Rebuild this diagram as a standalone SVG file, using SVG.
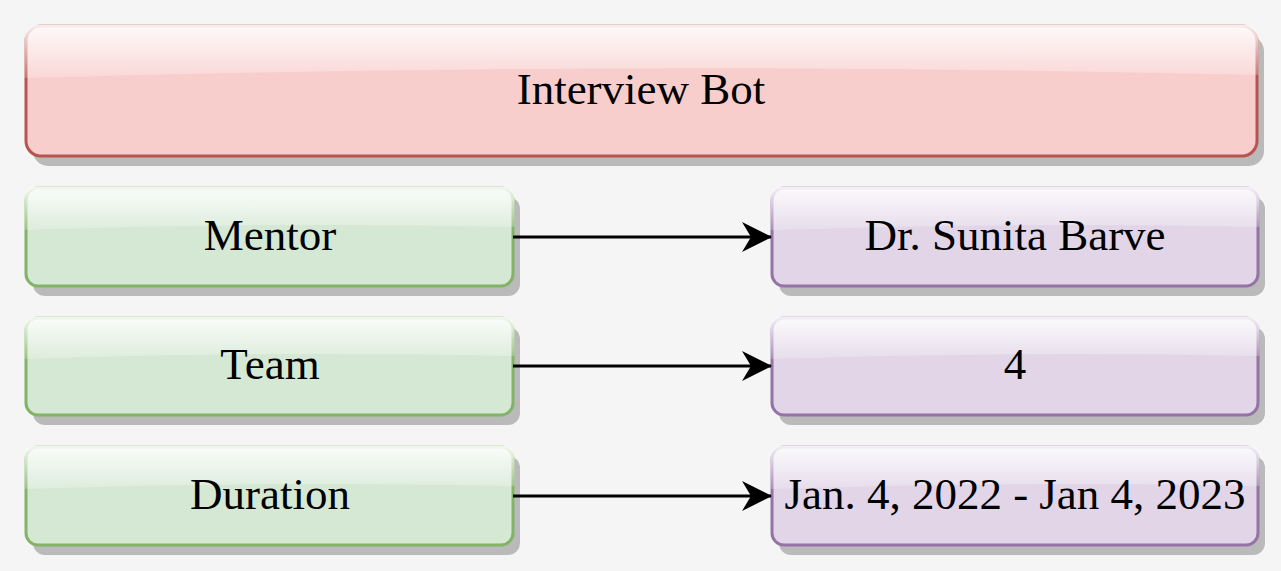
<svg xmlns="http://www.w3.org/2000/svg" width="1281" height="571" viewBox="0 0 1281 571">
<defs>
<linearGradient id="glass" x1="0" y1="0" x2="0" y2="1">
<stop offset="0" stop-color="#fff" stop-opacity="0.9"/>
<stop offset="1" stop-color="#fff" stop-opacity="0.2"/>
</linearGradient>
<marker id="arr" viewBox="0 0 30 30" refX="29" refY="15" markerWidth="30" markerHeight="30" markerUnits="userSpaceOnUse" orient="auto">
<path d="M0,0 L30,15 L0,30 L9,15 Z" fill="#000"/>
</marker>
</defs>
<style>
.t{font-family:"Liberation Serif","Times New Roman",serif;font-size:45px;fill:#000;text-anchor:middle;dominant-baseline:central}
.shd{fill:#bababa}
.red{fill:#f8cecc;stroke:#b85450;stroke-width:3}
.grn{fill:#d5e8d4;stroke:#82b366;stroke-width:3}
.pur{fill:#e1d5e7;stroke:#9673a6;stroke-width:3}
.gl{fill:url(#glass)}
.edge{stroke:#000;stroke-width:3;fill:none}
</style>
<rect width="1281" height="571" fill="#f5f5f5"/>
<g id="title">
<rect class="shd" x="33" y="36" width="1231" height="130" rx="15"/>
<rect class="red" x="26" y="26" width="1231" height="130" rx="15"/>
<path class="gl" d="M24.5,41 Q24.5,24.5 41,24.5 L1242,24.5 Q1258.5,24.5 1258.5,41 L1258.5,75 Q641,60 24.5,78 Z"/>
<text class="t" x="641" y="89">Interview Bot</text>
</g>
<g id="mentor">
<rect class="shd" x="33" y="197" width="487" height="99" rx="12"/>
<rect class="grn" x="26" y="188" width="487" height="98" rx="12"/>
<path class="gl" d="M24.5,200 Q24.5,186.5 38,186.5 L501,186.5 Q514.5,186.5 514.5,200 L514.5,227 Q270,222 24.5,230 Z"/>
<text class="t" x="270" y="235">Mentor</text>
</g>
<g id="mentor-val">
<rect class="shd" x="779" y="197" width="486" height="99" rx="12"/>
<rect class="pur" x="772" y="188" width="486" height="98" rx="12"/>
<path class="gl" d="M770.5,200 Q770.5,186.5 784,186.5 L1246,186.5 Q1259.5,186.5 1259.5,200 L1259.5,227 Q1015,222 770.5,230 Z"/>
<text class="t" x="1015" y="235">Dr. Sunita Barve</text>
</g>
<g id="team">
<rect class="shd" x="33" y="327" width="487" height="98" rx="12"/>
<rect class="grn" x="26" y="318" width="487" height="97" rx="12"/>
<path class="gl" d="M24.5,330 Q24.5,316.5 38,316.5 L501,316.5 Q514.5,316.5 514.5,330 L514.5,356 Q270,351 24.5,359 Z"/>
<text class="t" x="270" y="364">Team</text>
</g>
<g id="team-val">
<rect class="shd" x="779" y="327" width="486" height="98" rx="12"/>
<rect class="pur" x="772" y="318" width="486" height="97" rx="12"/>
<path class="gl" d="M770.5,330 Q770.5,316.5 784,316.5 L1246,316.5 Q1259.5,316.5 1259.5,330 L1259.5,356 Q1015,351 770.5,359 Z"/>
<text class="t" x="1015" y="364">4</text>
</g>
<g id="duration">
<rect class="shd" x="33" y="456" width="487" height="99" rx="12"/>
<rect class="grn" x="26" y="447" width="487" height="98" rx="12"/>
<path class="gl" d="M24.5,459 Q24.5,445.5 38,445.5 L501,445.5 Q514.5,445.5 514.5,459 L514.5,486 Q270,481 24.5,489 Z"/>
<text class="t" x="270" y="494">Duration</text>
</g>
<g id="duration-val">
<rect class="shd" x="779" y="456" width="486" height="99" rx="12"/>
<rect class="pur" x="772" y="447" width="486" height="98" rx="12"/>
<path class="gl" d="M770.5,459 Q770.5,445.5 784,445.5 L1246,445.5 Q1259.5,445.5 1259.5,459 L1259.5,486 Q1015,481 770.5,489 Z"/>
<text class="t" x="1015" y="494">Jan. 4, 2022 - Jan 4, 2023</text>
</g>
<g id="edges">
<line class="edge" x1="513" y1="237" x2="771" y2="237" marker-end="url(#arr)"/>
<line class="edge" x1="513" y1="366" x2="771" y2="366" marker-end="url(#arr)"/>
<line class="edge" x1="513" y1="496" x2="771" y2="496" marker-end="url(#arr)"/>
</g>
</svg>
